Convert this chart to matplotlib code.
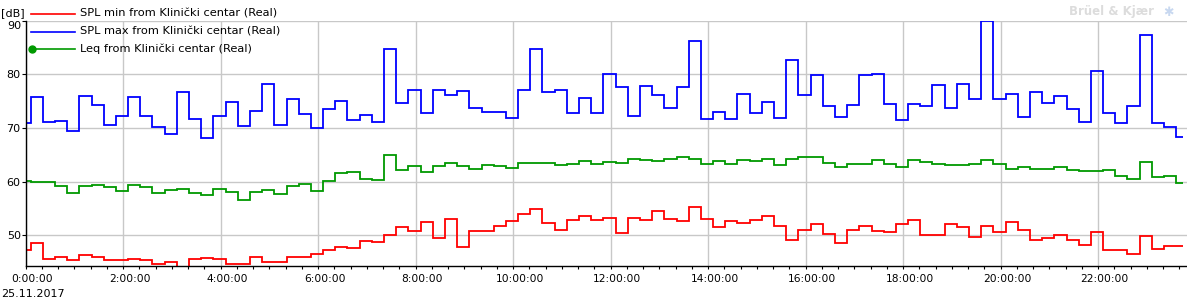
import numpy as np
import matplotlib
matplotlib.use('Agg')
import matplotlib.pyplot as plt
import matplotlib.ticker as ticker
import matplotlib.transforms as mtransforms
from matplotlib.lines import Line2D

# interval edges in minutes after midnight (first block is short, last one is cut)
edges_min = [0] + [6 + 15 * k for k in range(95)] + [1424]
edges_h = np.array(edges_min) / 60.0

spl_min = [47.2, 48.5, 45.6, 46.0, 45.4, 46.3, 46.0, 45.4, 45.4, 45.6,
           45.4, 44.7, 45.0, 43.9, 45.6, 45.8, 45.6, 44.7, 44.7, 46.0,
           45.0, 45.0, 46.0, 46.0, 46.5, 47.2, 47.8, 47.6, 48.9, 48.7,
           50.0, 51.5, 50.7, 52.4, 49.4, 53.1, 47.8, 50.7, 50.7, 51.8,
           52.6, 53.9, 54.8, 52.2, 50.9, 52.9, 53.5, 52.8, 53.3, 50.4,
           53.3, 52.8, 54.6, 53.1, 52.6, 55.3, 53.1, 51.5, 52.6, 52.2,
           52.9, 53.5, 51.7, 49.1, 50.9, 52.0, 50.2, 48.5, 50.9, 51.7,
           50.7, 50.55, 52.0, 52.9, 50.0, 50.0, 52.0, 51.5, 49.6, 51.7,
           50.55, 52.4, 50.9, 49.1, 49.4, 50.0, 49.1, 48.2, 50.55, 47.2,
           47.2, 46.5, 49.8, 47.4, 48.0, 48.0]

spl_max = [70.9, 75.8, 71.1, 71.3, 69.4, 76.0, 74.3, 70.6, 72.25, 75.8,
           72.25, 70.2, 68.9, 76.75, 71.6, 68.1, 72.25, 74.9, 70.4, 73.25,
           78.25, 70.6, 75.4, 72.6, 70.0, 73.6, 75.1, 71.5, 72.4, 71.1,
           84.8, 74.7, 77.1, 72.8, 77.1, 76.2, 76.9, 73.75, 73.0, 73.0,
           71.9, 77.1, 84.8, 76.75, 77.1, 72.8, 75.6, 72.8, 80.1, 77.7,
           72.25, 77.9, 76.2, 73.75, 77.7, 86.3, 71.7, 73.0, 71.7, 76.4,
           72.8, 74.9, 71.9, 82.75, 76.2, 79.9, 74.1, 72.1, 74.3, 79.9,
           80.1, 74.5, 71.4, 74.5, 74.1, 78.1, 73.75, 78.25, 75.4, 89.9,
           75.4, 76.4, 72.1, 76.75, 74.7, 76.0, 73.6, 71.1, 80.7, 72.8,
           70.9, 74.1, 87.4, 70.9, 70.2, 68.3]

leq = [60.1, 59.9, 59.9, 59.2, 57.9, 59.2, 59.4, 59.0, 58.3, 59.4,
       59.0, 57.9, 58.5, 58.65, 57.9, 57.5, 58.65, 58.1, 56.6, 58.1,
       58.5, 57.7, 59.2, 59.6, 58.3, 60.1, 61.6, 61.8, 60.5, 60.3,
       64.9, 62.1, 62.9, 61.8, 62.9, 63.4, 62.9, 62.3, 63.1, 62.9,
       62.5, 63.4, 63.4, 63.4, 63.1, 63.25, 63.8, 63.25, 63.6, 63.4,
       64.2, 64.0, 63.8, 64.2, 64.5, 64.2, 63.25, 63.8, 63.25, 64.0,
       63.8, 64.2, 63.1, 64.2, 64.5, 64.5, 63.4, 62.7, 63.25, 63.25,
       64.0, 63.25, 62.7, 64.0, 63.6, 63.25, 63.1, 63.1, 63.25, 64.0,
       63.25, 62.3, 62.7, 62.3, 62.3, 62.7, 62.1, 62.0, 62.0, 62.1,
       61.0, 60.5, 63.6, 60.9, 61.0, 59.75]

series = [
    ('SPL min from Klinički centar (Real)', spl_min, '#ff0000'),
    ('SPL max from Klinički centar (Real)', spl_max, '#0000ff'),
    ('Leq from Klinički centar (Real)', leq, '#009900'),
]

W, H = 1187, 303
plt.rcParams['font.family'] = ['DejaVu Sans']

fig = plt.figure(figsize=(W / 100, H / 100), dpi=100)
ax = fig.add_axes([25.7 / W, 1 - 266 / H, (W - 25.7) / W, (266 - 20.7) / H])

for name, vals, col in series:
    ax.stairs(vals, edges_h, color=col, lw=1.3, baseline=None)

ax.set_xlim(0, (W - 25.7) / 48.75)
ax.set_ylim(44.26, 90)

ax.xaxis.set_major_locator(ticker.MultipleLocator(2))
ax.xaxis.set_minor_locator(ticker.MultipleLocator(1 / 3))
ax.xaxis.set_major_formatter(ticker.FuncFormatter(lambda h, p: '%d:00:00' % round(h)))
ax.yaxis.set_major_locator(ticker.MultipleLocator(10))
# top label (90) is pushed below the axis top, drawn separately
ax.yaxis.set_major_formatter(ticker.FuncFormatter(lambda v, p: '' if v >= 89.5 else '%d' % v))

ax.grid(True, color='#c8c8c8', lw=1.0)
ax.set_axisbelow(True)
for s in ['top', 'right']:
    ax.spines[s].set_visible(False)
for s in ['left', 'bottom']:
    ax.spines[s].set_color('black')
    ax.spines[s].set_linewidth(1.0)

ax.tick_params(axis='x', which='both', direction='out', length=2.5, width=0.8,
               labelsize=7.7, pad=3)
ax.tick_params(axis='y', direction='out', length=3, width=0.8, labelsize=8, pad=0.6)

# x labels sit a few pixels right of their ticks
shift = mtransforms.ScaledTranslation(6.5 / 100, 0, fig.dpi_scale_trans)
for t in ax.xaxis.get_major_ticks():
    t.label1.set_transform(t.label1.get_transform() + shift)

ax.annotate('90', xy=(0, 90), xycoords=('axes fraction', 'data'),
            xytext=(-4.7, -5.6), textcoords='offset pixels',
            fontsize=8, ha='right', va='center')

# legend drawn by hand (no frame, marker at left end for Leq)
def fx(px):
    return px / W

def fy(py):
    return 1 - py / H

rows = [14, 31.5, 48.5]
for (name, vals, col), ry in zip(series, rows):
    fig.add_artist(Line2D([fx(31), fx(75)], [fy(ry), fy(ry)], color=col, lw=1.2,
                          transform=fig.transFigure))
    fig.text(fx(80), fy(ry), name, fontsize=8.2, va='center', ha='left')
fig.add_artist(Line2D([fx(32)], [fy(48.5)], color='#009900', marker='o', ms=5,
                      transform=fig.transFigure))

fig.text(fx(0.5), fy(13.5), '[dB]', fontsize=8, va='center', ha='left')
fig.text(fx(1.5), fy(294), '25.11.2017', fontsize=8, va='center', ha='left')
fig.text(fx(1154), fy(12), 'Brüel & Kjær', fontsize=8.5, fontweight='bold',
         color='#dcdcdc', va='center', ha='right')
fig.text(fx(1168), fy(12), '✱', fontsize=9, color='#c8d8f0', va='center', ha='center')

fig.savefig('out.png', dpi=100)
